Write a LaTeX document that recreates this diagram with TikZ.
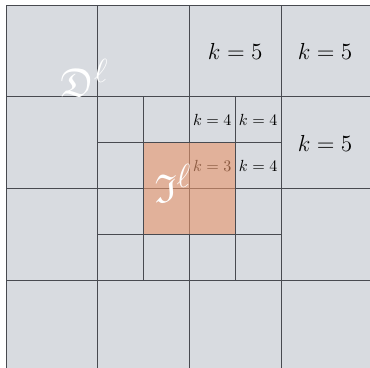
\documentclass[tikz,border=0pt]{standalone}
\usepackage{amsmath,amssymb}
\usepackage{tikz}
\definecolor{cellGray}{RGB}{216,219,224}
\definecolor{lineGray}{RGB}{72,74,80}
\definecolor{ifaceOrange}{RGB}{232,150,108}

\begin{document}
\begin{tikzpicture}
  \useasboundingbox (-0.131,0.083) rectangle (7.939,8.109);
  \clip (-0.131,0.083) rectangle (7.939,8.109);

  % Domain
  \fill[cellGray] (0,0) rectangle (8,8);

  % Coarse and refined cells
  \draw[lineGray, line width=0.6pt] (0,0) grid[step=2] (8,8);
  \draw[lineGray, line width=0.6pt] (2,2) grid[step=1] (6,6);

  % Levels
  \node[font=\Large] (k5a) at (5,6.98) {$k=5$};
  \node[font=\Large] (k5b) at (6.96,6.98) {$k=5$};
  \node[font=\Large] (k5c) at (6.96,4.98) {$k=5$};
  \node (k4a) at (4.5,5.5) {$k=4$};
  \node (k4b) at (5.5,5.5) {$k=4$};
  \node (k4c) at (5.5,4.5) {$k=4$};
  \node (k3) at (4.5,4.5) {$k=3$};

  % Interface cells
  \fill[ifaceOrange, fill opacity=0.6] (3,3) rectangle (5,5);

  % Set names
  \node[white, font=\Huge, anchor=base] (Dset) at (1.71,6.0) {$\mathfrak{D}^\ell$};
  \node[white, font=\Huge, anchor=base] (Iset) at (3.64,3.7) {$\mathfrak{I}^\ell$};
\end{tikzpicture}
\end{document}
